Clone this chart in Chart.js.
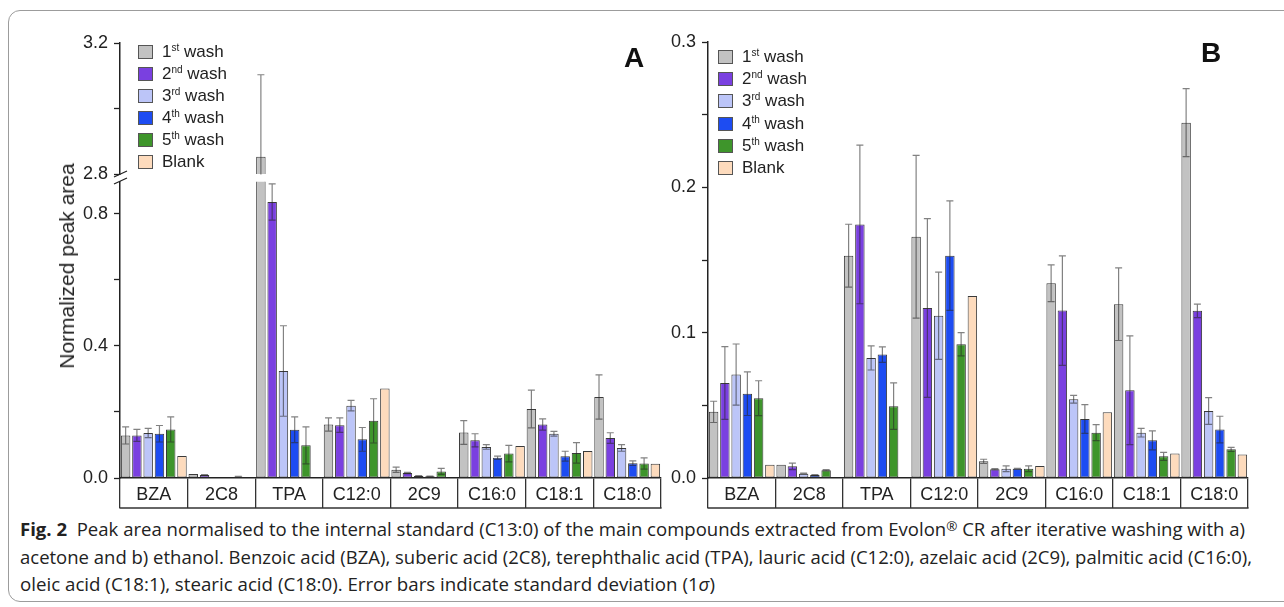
<!DOCTYPE html>
<html>
<head>
<meta charset="utf-8">
<script src="https://cdn.jsdelivr.net/npm/chart.js@4.4.1/dist/chart.umd.min.js"></script>
<style>
  html, body { margin:0; padding:0; background:#fff; }
  body { width:1284px; height:607px; position:relative; overflow:hidden; font-family:"Liberation Sans", Arial, sans-serif; color:#222; }
  canvas { position:absolute; }
  #frame { position:absolute; left:8px; top:10px; width:1320px; height:592px; border:1px solid #9c9c9c; border-radius:12px; box-sizing:border-box; }
  .legend { position:absolute; font-size:17px; color:#222; }
  .legend .row { position:absolute; left:0; height:22px; white-space:nowrap; }
  .legend .sw { position:absolute; left:0; width:15px; height:14px; box-sizing:border-box; border:1px solid #555; }
  .legend .tx { position:absolute; left:24px; top:-9px; line-height:18px; }
  .legend sup { font-size:10px; vertical-align:6px; line-height:0; }
  .ytitle { position:absolute; font-size:21px; white-space:nowrap; transform:translate(-50%,-50%) rotate(-90deg); color:#222; }
  .plabel { position:absolute; font-weight:bold; font-size:28px; color:#111; }
  .cap { position:absolute; left:20px; font-family:"Open Sans", sans-serif; font-size:18px; line-height:20px; white-space:nowrap; transform-origin:0 0; color:#222; }
  .cap sup { font-size:13px; vertical-align:5px; line-height:0; }
</style>
</head>
<body>
<div id="frame"></div>
<canvas id="aTop" width="680" height="200" style="left:0;top:0"></canvas>
<canvas id="aBot" width="680" height="345" style="left:0;top:165px"></canvas>
<canvas id="bCh" width="624" height="510" style="left:660px;top:0"></canvas>
<div class="ytitle" style="left:67px;top:266px">Normalized peak area</div>
<div class="plabel" style="left:624px;top:42px">A</div>
<div class="plabel" style="left:1201px;top:37px">B</div>
<div id="legA" class="legend" style="left:138px;top:52px"></div>
<div id="legB" class="legend" style="left:718px;top:57px"></div>
<div class="cap" id="cap1" style="top:519px"><b>Fig. 2</b>&nbsp; Peak area normalised to the internal standard (C13:0) of the main compounds extracted from Evolon<sup>®</sup> CR after iterative washing with a)</div>
<div class="cap" id="cap2" style="top:547px">acetone and b) ethanol. Benzoic acid (BZA), suberic acid (2C8), terephthalic acid (TPA), lauric acid (C12:0), azelaic acid (2C9), palmitic acid (C16:0),</div>
<div class="cap" id="cap3" style="top:574px">oleic acid (C18:1), stearic acid (C18:0). Error bars indicate standard deviation (1<i>σ</i>)</div>
<script>
// ---------- DATA ----------
const categories = ['BZA', '2C8', 'TPA', 'C12:0', '2C9', 'C16:0', 'C18:1', 'C18:0'];
const seriesNames = ['1st wash', '2nd wash', '3rd wash', '4th wash', '5th wash', 'Blank'];

// Panel A (acetone)
const A_wash1     = [0.129, 0.012, 2.853, 0.162, 0.025, 0.138, 0.209, 0.245];
const A_wash1_err = [0.026, 0,     0.250, 0.020, 0.008, 0.036, 0.057, 0.067];
const A_wash2     = [0.129, 0.009, 0.836, 0.160, 0.015, 0.114, 0.162, 0.121];
const A_wash2_err = [0.018, 0.001, 0.055, 0.022, 0.002, 0.020, 0.017, 0.016];
const A_wash3     = [0.136, 0.001, 0.324, 0.219, 0.006, 0.094, 0.134, 0.091];
const A_wash3_err = [0.014, 0,     0.137, 0.016, 0.001, 0.007, 0.007, 0.010];
const A_wash4     = [0.134, 0.001, 0.146, 0.117, 0.005, 0.061, 0.066, 0.045];
const A_wash4_err = [0.025, 0,     0.039, 0.036, 0.001, 0.005, 0.015, 0.007];
const A_wash5     = [0.147, 0.004, 0.099, 0.173, 0.020, 0.074, 0.076, 0.044];
const A_wash5_err = [0.038, 0.001, 0.056, 0.067, 0.009, 0.025, 0.031, 0.017];
const A_blank     = [0.067, null,  null,  0.271, null,  0.097, 0.082, 0.043];

// Panel B (ethanol)
const B_wash1     = [0.0455, 0.0092, 0.153,  0.166,  0.0115, 0.134,  0.1196, 0.2445];
const B_wash1_err = [0.0073, 0,      0.0216, 0.056,  0.0014, 0.0126, 0.025,  0.0234];
const B_wash2     = [0.0654, 0.008,  0.1745, 0.117,  0.006,  0.1152, 0.0604, 0.115];
const B_wash2_err = [0.025,  0.0023, 0.0546, 0.0615, 0.0005, 0.0377, 0.0374, 0.0046];
const B_wash3     = [0.0712, 0.003,  0.0826, 0.1116, 0.0064, 0.0542, 0.0312, 0.0461];
const B_wash3_err = [0.021,  0.0003, 0.0083, 0.030,  0.002,  0.0027, 0.003,  0.0092];
const B_wash4     = [0.058,  0.002,  0.0849, 0.153,  0.0064, 0.0406, 0.0259, 0.0333];
const B_wash4_err = [0.015,  0.0003, 0.0053, 0.0377, 0.0003, 0.0099, 0.0065, 0.0092];
const B_wash5     = [0.0549, 0.0053, 0.0494, 0.092,  0.0064, 0.0312, 0.0149, 0.0197];
const B_wash5_err = [0.012,  0.0005, 0.016,  0.008,  0.002,  0.0055, 0.0028, 0.0014];
const B_blank     = [0.0092, null,   null,   0.1253, 0.0083, 0.0452, 0.0168, 0.0161];

// Axis ticks
const A_upperTicks = [2.8, 3.2];
const A_lowerTicks = [0.0, 0.4, 0.8];
const B_ticks = [0.0, 0.1, 0.2, 0.3];

// ---------- STYLE ----------
const fillColors = ['#c2c2c2', '#7a40e0', '#bcc5f8', '#1d4cf2', '#3e952b', '#fddbbd'];
const borderColor = '#3a3a3a';

Chart.defaults.font.family = '"Liberation Sans", Arial, sans-serif';
Chart.defaults.font.size = 18;
Chart.defaults.color = '#222';

const errorBars = {
  id: 'errorBars',
  afterDatasetsDraw(chart) {
    const ctx = chart.ctx, a = chart.chartArea, ys = chart.scales.y;
    ctx.save();
    ctx.beginPath();
    ctx.rect(a.left, a.top - 0.5, a.right - a.left, a.bottom - a.top + 1);
    ctx.clip();
    ctx.strokeStyle = 'rgba(40,40,40,0.58)';
    ctx.lineWidth = 1.2;
    chart.data.datasets.forEach((ds, i) => {
      if (!ds.errors) return;
      const meta = chart.getDatasetMeta(i);
      meta.data.forEach((bar, j) => {
        const v = ds.data[j], e = ds.errors[j];
        if (v == null || !e) return;
        const x = bar.x;
        const yt = ys.getPixelForValue(v + e), yb = ys.getPixelForValue(v - e);
        ctx.beginPath();
        ctx.moveTo(x, yt); ctx.lineTo(x, yb);
        ctx.moveTo(x - 3.5, yt); ctx.lineTo(x + 3.5, yt);
        ctx.moveTo(x - 3.5, yb); ctx.lineTo(x + 3.5, yb);
        ctx.stroke();
      });
    });
    ctx.restore();
  }
};

const boxBottom = {
  id: 'boxBottom',
  afterDraw(chart, args, opts) {
    if (!opts.show) return;
    const xs = chart.scales.x, ctx = chart.ctx;
    ctx.save();
    ctx.strokeStyle = '#333';
    ctx.lineWidth = 1.3;
    ctx.beginPath();
    ctx.moveTo(xs.left - 0.6, xs.top + 30);
    ctx.lineTo(xs.right + 0.6, xs.top + 30);
    ctx.stroke();
    ctx.restore();
  }
};

const breakMarks = {
  id: 'breakMarks',
  afterDraw(chart, args, opts) {
    if (!opts.show) return;
    const ctx = chart.ctx, a = chart.chartArea, x = a.left;
    ctx.save();
    ctx.strokeStyle = '#222';
    ctx.lineWidth = 1.3;
    ctx.beginPath();
    ctx.moveTo(x - 6, a.bottom + 3); ctx.lineTo(x + 7, a.bottom - 3);
    ctx.moveTo(x - 6, a.bottom + 10); ctx.lineTo(x + 7, a.bottom + 4);
    ctx.stroke();
    ctx.restore();
  }
};

function makeDatasets(vals, errs) {
  return vals.map((v, i) => ({
    label: seriesNames[i],
    data: v,
    errors: errs[i],
    backgroundColor: fillColors[i],
    borderColor: borderColor,
    borderWidth: 1,
    borderSkipped: false,
    barPercentage: 0.84,
    categoryPercentage: 1.0,
    clip: 0
  }));
}

function majorLabel(step) {
  return function (v) {
    const r = v / step;
    return Math.abs(r - Math.round(r)) < 1e-6 ? Number(v).toFixed(1) : '';
  };
}

function makeChart(id, vals, errs, y, showX, padding, yWidth, extra) {
  return new Chart(document.getElementById(id), {
    type: 'bar',
    data: { labels: categories, datasets: makeDatasets(vals, errs) },
    options: {
      responsive: false,
      animation: false,
      layout: { padding: padding },
      plugins: {
        legend: { display: false },
        tooltip: { enabled: false },
        boxBottom: { show: showX },
        breakMarks: { show: !!(extra && extra.breakMarks) }
      },
      scales: {
        x: {
          display: showX,
          offset: true,
          grid: { display: true, offset: true, drawOnChartArea: false, drawTicks: true, tickLength: 30, color: '#333', lineWidth: 1.3 },
          border: { display: true, color: '#222', width: 1.5 },
          ticks: { padding: -24, font: { size: 18 }, color: '#222', maxRotation: 0, autoSkip: false },
          afterFit: (s) => { s.height = showX ? 32 : 0; }
        },
        y: {
          min: y.min, max: y.max,
          grid: { drawOnChartArea: false, drawTicks: true, tickLength: 6, tickColor: '#222', tickWidth: 1.3 },
          border: { display: true, color: '#222', width: 1.5 },
          ticks: { stepSize: y.step, includeBounds: false, padding: 6, callback: majorLabel(y.major), font: { size: 18 }, color: '#222' },
          afterFit: (s) => { s.width = yWidth; }
        }
      }
    },
    plugins: [errorBars, boxBottom, breakMarks]
  });
}

const A_vals = [A_wash1, A_wash2, A_wash3, A_wash4, A_wash5, A_blank];
const A_errs = [A_wash1_err, A_wash2_err, A_wash3_err, A_wash4_err, A_wash5_err, null];
const B_vals = [B_wash1, B_wash2, B_wash3, B_wash4, B_wash5, B_blank];
const B_errs = [B_wash1_err, B_wash2_err, B_wash3_err, B_wash4_err, B_wash5_err, null];

const chartATop = makeChart('aTop', A_vals, A_errs,
  { min: A_upperTicks[0], max: A_upperTicks[A_upperTicks.length - 1], step: 0.2, major: 0.4 },
  false, { top: 43, bottom: 26, left: 0, right: 19 }, 120, { breakMarks: true });
const chartABot = makeChart('aBot', A_vals, A_errs,
  { min: A_lowerTicks[0], max: 0.897, step: 0.2, major: 0.4 },
  true, { top: 11, bottom: 0, left: 0, right: 19 }, 120);
const chartB = makeChart('bCh', B_vals, B_errs,
  { min: B_ticks[0], max: B_ticks[B_ticks.length - 1], step: 0.05, major: 0.1 },
  true, { top: 42, bottom: 0, left: 0, right: 36 }, 48);

// ---------- LEGENDS (from chart datasets) ----------
function buildLegend(el, chart, pitch) {
  chart.data.datasets.forEach((ds, i) => {
    const row = document.createElement('div');
    row.className = 'row';
    row.style.top = (i * pitch - 7) + 'px';
    const sw = document.createElement('div');
    sw.className = 'sw';
    sw.style.background = ds.backgroundColor;
    sw.style.top = '0px';
    const tx = document.createElement('div');
    tx.className = 'tx';
    tx.style.top = '-2px';
    const m = ds.label.match(/^(\d)(st|nd|rd|th) (.*)$/);
    if (m) tx.innerHTML = m[1] + '<sup>' + m[2] + '</sup> ' + m[3];
    else tx.textContent = ds.label;
    row.appendChild(sw); row.appendChild(tx);
    el.appendChild(row);
  });
}
buildLegend(document.getElementById('legA'), chartATop, 22);
buildLegend(document.getElementById('legB'), chartB, 22.2);

// ---------- caption width fitting ----------
[['cap1', 1225], ['cap2', 1232], ['cap3', 695]].forEach(([id, w]) => {
  const el = document.getElementById(id);
  const cw = el.getBoundingClientRect().width;
  el.style.transform = 'scaleX(' + (w / cw) + ')';
});
</script>
</body>
</html>
